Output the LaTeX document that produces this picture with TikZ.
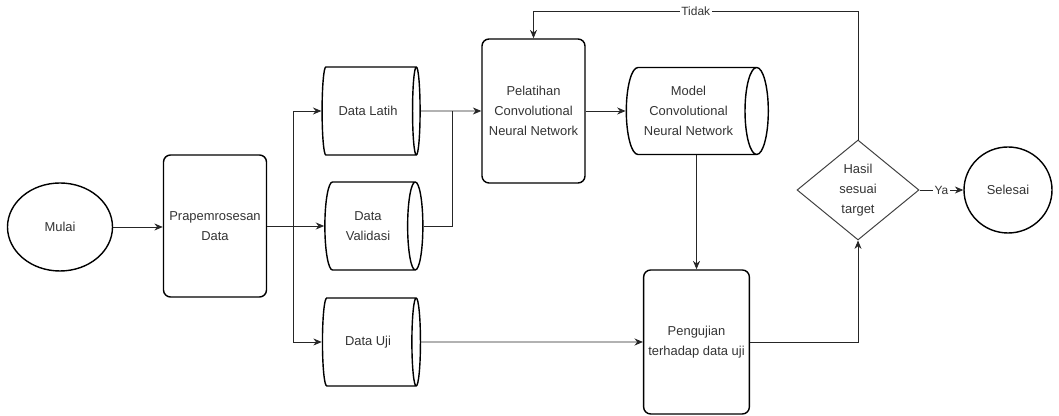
\documentclass[tikz,border=0pt]{standalone}
\usepackage{fontspec}
\setmainfont{Liberation Sans}
\usepackage{tikz}
\usetikzlibrary{arrows.meta, calc, shapes.geometric}

\begin{document}
\begin{tikzpicture}[
	every node/.style={font=\fontsize{9.2}{14}\selectfont, text=black!80, align=center},
	terminal/.style={ellipse, draw=black, line width=1pt, inner sep=0pt},
	process/.style={rectangle, rounded corners=5pt, draw=black, line width=1pt, minimum width=2.575cm, minimum height=3.6cm},
	store/.style={cylinder, draw=black, line width=1pt, shape aspect=0.4, minimum height=2.45cm, minimum width=2.2cm},
	decision/.style={diamond, draw=black!75, line width=0.7pt, minimum width=3.05cm, minimum height=2.5cm, inner sep=0pt},
	link/.style={draw=black!85, line width=0.6pt},
	arr/.style={link, -{Stealth[length=6pt, width=5pt]}},
	tag/.style={fill=white, inner sep=1pt, font=\fontsize{8.5}{10}\selectfont}
]
	\useasboundingbox (0,0) rectangle (26.475,10.4);

	% nodes
	\node[terminal, minimum width=2.625cm, minimum height=2.2cm] (mulai) at (1.5,4.725) {Mulai};
	\node[process, minimum height=3.55cm] (prep) at (5.375,4.75) {Prapemrosesan\\Data};
	\node[store] (latih) at (9.2,7.625) {Data Latih};
	\node[store] (valid) at (9.2,4.75) {Data\\Validasi};
	\node[store] (uji) at (9.2,1.85) {Data Uji};
	\node[process] (train) at (13.3375,7.625) {Pelatihan\\Convolutional\\Neural Network};
	\node[store, minimum height=3.55cm, minimum width=2.175cm] (model) at (17.2125,7.625) {Model\\Convolutional\\Neural Network};
	\node[process] (test) at (17.4125,1.85) {Pengujian\\terhadap data uji};
	\node[decision] (hasil) at (21.45,5.65) {Hasil\\sesuai\\target};
	\node[terminal, minimum width=2.2cm, minimum height=2.15cm] (selesai) at (25.2,5.65) {Selesai};

	\coordinate (fork) at (7.325,4.75);
	\coordinate (merge) at (11.3,7.625);
	\coordinate (loop) at (21.45,10.125);

	% connectors
	\draw[arr] (mulai.east) -- (mulai.east -| prep.west);
	\draw[link] (prep.east) -- (fork);
	\draw[arr] (fork) |- (latih.west);
	\draw[arr] (fork) -- (valid.west);
	\draw[arr] (fork) |- (uji.west);
	\draw[link] (valid.east) -| (merge);
	\draw[arr] (latih.east) -- (train.west);
	\draw[arr] (train) -- (model);
	\draw[arr] (test.north |- model.south) -- (test.north);
	\draw[arr] (uji.east) -- (test.west);
	\draw[arr] (test.east) -| (hasil.south);
	\draw[arr] (hasil.east) -- node[tag] {Ya} (selesai.west);
	\draw[arr] (hasil.north) -- (loop) -- node[tag] {Tidak} (loop -| train.north) -- (train.north);

\end{tikzpicture}
\end{document}
